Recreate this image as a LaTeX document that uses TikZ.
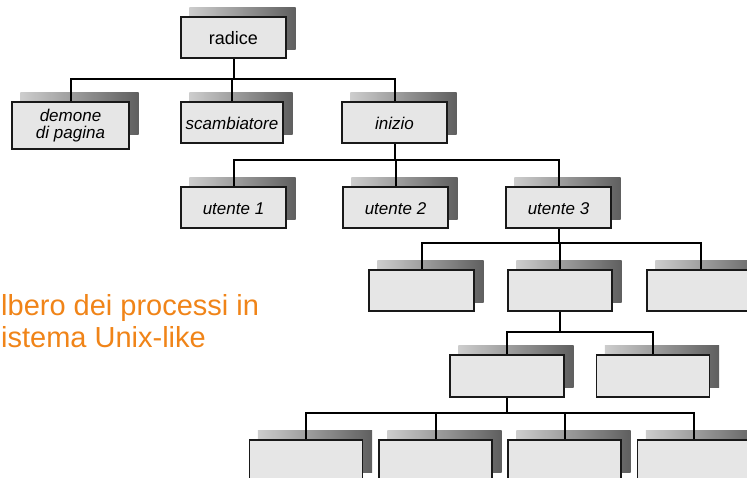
\documentclass[tikz,border=0pt]{standalone}
\usepackage{fontspec}
\setmainfont{Liberation Sans}
\pgfdeclarelayer{background}
\pgfsetlayers{background,main}
\definecolor{boxfill}{RGB}{230,230,230}
\definecolor{shadeL}{RGB}{205,205,205}
\definecolor{shadeR}{RGB}{95,95,95}
\definecolor{capcol}{RGB}{240,132,24}
\tikzset{
  procbox/.style={draw=black!90, line width=1.1pt, fill=boxfill, inner sep=0pt,
    minimum height=41pt, text height=14pt, text depth=0pt,
    font=\fontsize{17}{17}\selectfont\itshape},
  rootbox/.style={procbox, font=\fontsize{18}{18}\selectfont},
  conn/.style={line width=2pt, black},
}
\newcommand\shadowof[1]{%
  \begin{pgfonlayer}{background}
    \shade[left color=shadeL, right color=shadeR]
      ([shift={(9,-9)}]#1.north west) rectangle ([shift={(9,33)}]#1.north east);
  \end{pgfonlayer}}
\begin{document}
\begin{tikzpicture}[x=1pt,y=-1pt]
\useasboundingbox (0,0) rectangle (747,477);
% level 1
\node[rootbox, minimum width=105pt] (radice) at (233.5,37.5) {radice};
% level 2
\node[procbox, minimum width=117pt, minimum height=47pt, text height=, text depth=, align=center,
  font=\fontsize{17}{17}\selectfont\itshape] (demone) at (70.5,125.5) {demone\\di pagina};
\node[procbox, minimum width=102pt] (scamb) at (232,122.5) {scambiatore};
\node[procbox, minimum width=105pt] (inizio) at (394.5,122.5) {inizio};
% level 3
\node[procbox, minimum width=105pt] (u1) at (233.5,207.5) {utente 1};
\node[procbox, minimum width=105pt] (u2) at (395.5,207.5) {utente 2};
\node[procbox, minimum width=105pt] (u3) at (558.5,207.5) {utente 3};
% level 4
\node[procbox, minimum width=105pt] (a1) at (421.5,290.5) {};
\node[procbox, minimum width=104pt] (a2) at (560,290.5) {};
\node[procbox, minimum width=108pt] (a3) at (701,290.5) {};
% level 5
\node[procbox, minimum width=114pt, minimum height=42pt] (b1) at (507,376) {};
\node[procbox, minimum width=113pt, minimum height=42pt] (b2) at (653,376) {};
% level 6
\node[procbox, minimum width=113pt] (c1) at (306,460.5) {};
\node[procbox, minimum width=113pt] (c2) at (435.5,460.5) {};
\node[procbox, minimum width=113pt] (c3) at (564.5,460.5) {};
\node[procbox, minimum width=113pt] (c4) at (694,460.5) {};
% shadows
\foreach \n in {radice,demone,scamb,inizio,u1,u2,u3,a1,a2,a3,b1,b2,c1,c2,c3,c4}{\shadowof{\n}}
% connectors
\foreach \c in {demone,scamb,inizio}{\draw[conn] (\c.north) -- ++(0,-22) -| (radice.south);}
\foreach \c in {u1,u2,u3}{\draw[conn] (\c.north) -- ++(0,-26) -| (inizio.south);}
\foreach \c in {a1,a2,a3}{\draw[conn] (\c.north) -- ++(0,-26) -| (u3.south);}
\foreach \c in {b1,b2}{\draw[conn] (\c.north) -- ++(0,-22) -| (a2.south);}
\foreach \c in {c1,c2,c3,c4}{\draw[conn] (\c.north) -- ++(0,-26) -| (b1.south);}
% caption
\node[anchor=base west, inner sep=0pt, align=left, text=capcol,
  font=\fontsize{29}{32}\selectfont] (caption) at (1,347) {lbero dei processi in\\istema Unix-like};
\end{tikzpicture}
\end{document}
